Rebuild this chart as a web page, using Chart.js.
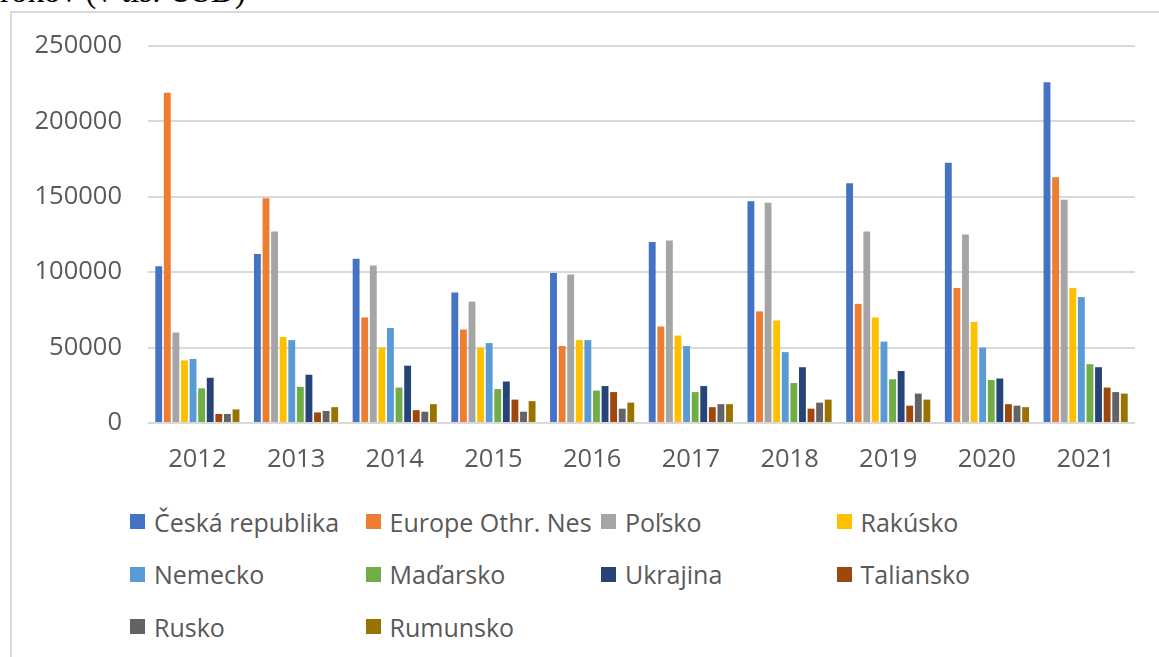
<!DOCTYPE html>
<html>
<head>
<meta charset="utf-8">
<script src="https://cdn.jsdelivr.net/npm/chart.js@4.4.1/dist/chart.umd.min.js"></script>
<style>
  html, body { margin: 0; padding: 0; background: #fff; }
  body { width: 1159px; height: 657px; position: relative; overflow: hidden; }
  #caption {
    position: absolute; left: 0; top: -25px;
    font-family: "Liberation Serif", "Times New Roman", serif;
    font-size: 33px; line-height: 32px; color: #000; white-space: nowrap;
  }
  #frame {
    position: absolute; left: 10px; top: 11px; width: 1200px; height: 700px;
    border-left: 2px solid #d9d9d9; border-top: 2px solid #d9d9d9;
  }
  #chart-box { position: absolute; left: 0; top: 0; width: 1159px; height: 490px; }
  #legend {
    position: absolute; left: 130px; top: 508px;
    display: grid; grid-template-columns: 235.5px 235.5px 235.5px 235.5px;
    grid-auto-rows: 52.5px;
    font-family: "Open Sans", sans-serif; font-size: 25px; color: #595959;
  }
  .legend-item { display: flex; align-items: center; height: 27px; white-space: nowrap; }
  .legend-box { width: 15px; height: 15px; margin-right: 9px; flex: none; }
</style>
</head>
<body>
<div id="caption">rokov (v tis. USD)</div>
<div id="frame"></div>
<div id="chart-box"><canvas id="trade-chart" width="1159" height="490"></canvas></div>
<div id="legend"></div>

<script>
var years = ['2012', '2013', '2014', '2015', '2016', '2017', '2018', '2019', '2020', '2021'];
var yTicks = [0, 50000, 100000, 150000, 200000, 250000];

var ceskaRepublika = [104000, 112000, 109000, 86500, 99500, 120000, 147000, 159000, 172500, 226000];
var europeOthrNes = [219000, 149000, 70000, 62000, 51000, 64000, 74000, 79000, 89500, 163000];
var polsko = [60000, 127000, 104500, 80500, 98500, 121000, 146000, 127000, 125000, 148000];
var rakusko = [41500, 57000, 50000, 50000, 55000, 58000, 68000, 70000, 67000, 89500];
var nemecko = [42500, 55000, 63000, 53000, 55000, 51000, 47000, 54000, 50000, 83500];
var madarsko = [23000, 24000, 23500, 22500, 21500, 20500, 26500, 29000, 28500, 39000];
var ukrajina = [30000, 32000, 38000, 27500, 24500, 24500, 37000, 34500, 29500, 37000];
var taliansko = [6000, 7000, 8500, 15500, 20500, 10500, 9500, 11500, 12500, 23500];
var rusko = [6000, 8000, 7500, 7500, 9500, 12500, 13500, 19500, 11500, 20500];
var rumunsko = [9000, 10500, 12500, 14500, 13500, 12500, 15500, 15500, 10500, 19500];

var seriesNames = ['Česká republika', 'Europe Othr. Nes', 'Poľsko', 'Rakúsko', 'Nemecko',
  'Maďarsko', 'Ukrajina', 'Taliansko', 'Rusko', 'Rumunsko'];
var seriesData = [ceskaRepublika, europeOthrNes, polsko, rakusko, nemecko,
  madarsko, ukrajina, taliansko, rusko, rumunsko];
var seriesColors = ['#4472c4', '#ed7d31', '#a5a5a5', '#ffc000', '#5b9bd5',
  '#70ad47', '#264478', '#9e480e', '#636363', '#997300'];

function buildLegend(chart) {
  var box = document.getElementById('legend');
  box.innerHTML = '';
  chart.data.datasets.forEach(function(ds) {
    var item = document.createElement('div');
    item.className = 'legend-item';
    var swatch = document.createElement('span');
    swatch.className = 'legend-box';
    swatch.style.background = ds.backgroundColor;
    var label = document.createElement('span');
    label.textContent = ds.label;
    item.appendChild(swatch);
    item.appendChild(label);
    box.appendChild(item);
  });
}

document.addEventListener('DOMContentLoaded', function() {
  var datasets = [];
  for (var i = 0; i < seriesNames.length; i++) {
    datasets.push({
      label: seriesNames[i],
      data: seriesData[i],
      backgroundColor: seriesColors[i],
      borderWidth: 0,
      barPercentage: 0.8,
      categoryPercentage: 0.87
    });
  }

  var chart = new Chart(document.getElementById('trade-chart'), {
    type: 'bar',
    data: {
      labels: years,
      datasets: datasets
    },
    options: {
      responsive: false,
      animation: false,
      layout: {
        padding: { top: 46, right: 24, left: 0, bottom: 0 }
      },
      plugins: {
        legend: { display: false },
        tooltip: { enabled: false }
      },
      scales: {
        x: {
          grid: { display: false, drawTicks: false },
          border: { display: false },
          ticks: {
            color: '#595959',
            padding: 21,
            font: { family: 'Open Sans', size: 25.5 }
          },
          afterFit: function(scale) { scale.height = 67; }
        },
        y: {
          min: 0,
          max: 250000,
          afterBuildTicks: function(scale) {
            scale.ticks = yTicks.map(function(v) { return { value: v }; });
          },
          grid: { color: '#d9d9d9', lineWidth: 2, drawTicks: false },
          border: { display: false },
          ticks: {
            color: '#595959',
            padding: 26,
            font: { family: 'Open Sans', size: 25.5 },
            callback: function(value) { return String(value); }
          },
          afterFit: function(scale) { scale.width = 148; }
        }
      }
    }
  });

  buildLegend(chart);
});
</script>
</body>
</html>
